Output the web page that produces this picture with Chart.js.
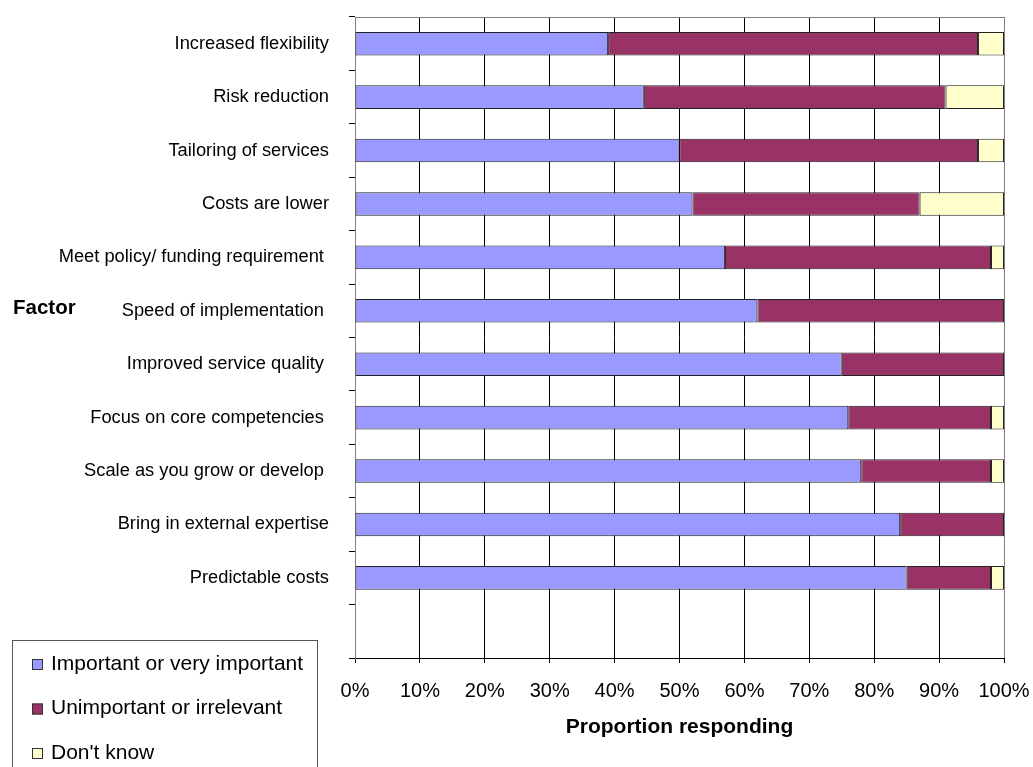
<!DOCTYPE html>
<html>
<head>
<meta charset="utf-8">
<script src="https://cdn.jsdelivr.net/npm/chart.js@4"></script>
<style>
  html, body { margin: 0; padding: 0; background: #fff; overflow: hidden; }
  #wrap { position: relative; width: 1033px; height: 767px; }
</style>
</head>
<body>
<div id="wrap"><canvas id="factorChart" width="1033" height="767"></canvas></div>
<script>
const factors = [
  'Increased flexibility',
  'Risk reduction',
  'Tailoring of services',
  'Costs are lower',
  'Meet policy/ funding requirement ',
  'Speed of implementation ',
  'Improved service quality ',
  'Focus on core competencies ',
  'Scale as you grow or develop ',
  'Bring in external expertise',
  'Predictable costs',
  ''
];
const important = [39, 44.5, 50, 52, 57, 62, 75, 76, 78, 84, 85, null];
const unimportant = [57, 46.5, 46, 35, 41, 38, 25, 22, 20, 16, 13, null];
const dontKnow = [4, 9, 4, 13, 2, 0, 0, 2, 2, 0, 2, null];
const xTicks = [0, 10, 20, 30, 40, 50, 60, 70, 80, 90, 100];

const seriesNames = ['Important or very important', 'Unimportant or irrelevant', "Don't know"];
const seriesColors = ['#9999FF', '#993366', '#FFFFCC'];

// frame, "Factor" label and boxed legend in the lower left
const extras = {
  id: 'extras',
  afterDraw(chart) {
    const c = chart.ctx;
    const a = chart.chartArea;
    c.save();
    c.strokeStyle = '#808080';
    c.lineWidth = 1;
    c.beginPath();
    c.moveTo(a.left, a.top + 0.5);
    c.lineTo(a.right + 0.5, a.top + 0.5);
    c.lineTo(a.right + 0.5, a.bottom);
    c.stroke();

    c.fillStyle = '#000';
    c.font = 'bold 20.5px "Liberation Sans", Arial, sans-serif';
    c.textAlign = 'left';
    c.textBaseline = 'middle';
    c.fillText('Factor', 13, 308);

    c.strokeStyle = '#555';
    c.strokeRect(12.5, 640.5, 305, 140);
    c.font = '21px "Liberation Sans", Arial, sans-serif';
    chart.data.datasets.forEach((ds, i) => {
      const y = 664 + i * 44.5;
      c.fillStyle = ds.backgroundColor;
      c.fillRect(32, y - 5, 11, 11);
      c.strokeStyle = '#333';
      c.strokeRect(32.5, y - 4.5, 10, 10);
      c.fillStyle = '#000';
      c.fillText(ds.label, 51, y);
    });
    c.restore();
  }
};

const ctx = document.getElementById('factorChart').getContext('2d');
const factorChart = new Chart(ctx, {
  type: 'bar',
  data: {
    labels: factors,
    datasets: [important, unimportant, dontKnow].map((d, i) => ({
      label: seriesNames[i],
      data: d,
      backgroundColor: seriesColors[i],
      borderColor: '#222',
      borderWidth: 1,
      borderSkipped: false,
      barPercentage: 0.44,
      categoryPercentage: 1
    }))
  },
  options: {
    indexAxis: 'y',
    responsive: false,
    animation: false,
    devicePixelRatio: 1,
    layout: { padding: { left: 0, right: 29, top: 17, bottom: 0 } },
    scales: {
      x: {
        stacked: true,
        min: 0,
        max: 100,
        afterBuildTicks: s => { s.ticks = xTicks.map(v => ({ value: v })); },
        afterFit: s => { s.height = 109; s.paddingLeft = 0; s.paddingRight = 0; },
        ticks: {
          callback: v => v + '%',
          color: '#000',
          padding: 16,
          maxRotation: 0,
          font: { family: '"Liberation Sans", Arial, sans-serif', size: 20 }
        },
        grid: {
          color: c => (c.tick && (c.tick.value === 0 || c.tick.value === 100)) ? '#808080' : '#000',
          tickLength: 5,
          tickColor: '#000'
        },
        border: { color: '#000' },
        title: {
          display: true,
          text: 'Proportion responding',
          color: '#000',
          padding: { top: 0, bottom: 27 },
          font: { family: '"Liberation Sans", Arial, sans-serif', size: 21, weight: 'bold' }
        }
      },
      y: {
        stacked: true,
        offset: true,
        afterFit: s => { s.width = 355; s.paddingTop = 0; s.paddingBottom = 0; },
        ticks: {
          color: '#000',
          padding: 20,
          font: { family: '"Liberation Sans", Arial, sans-serif', size: 18.3 }
        },
        grid: {
          offset: true,
          drawOnChartArea: false,
          tickLength: 6,
          tickColor: '#000'
        },
        border: { color: '#808080' }
      }
    },
    plugins: {
      legend: { display: false },
      tooltip: { enabled: false }
    }
  },
  plugins: [extras]
});
</script>
</body>
</html>
